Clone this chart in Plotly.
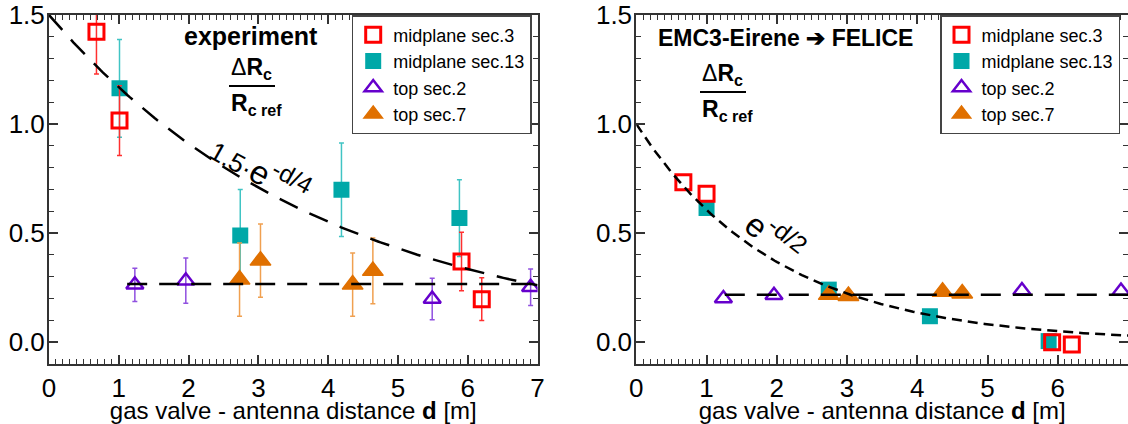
import numpy as np
import plotly.graph_objects as go

W, H = 1128, 424
MT, MB = 15, 60

# ---------------- data: experiment (left panel) ----------------
exp_mid3_d = [0.68, 1.01, 5.91, 6.20]
exp_mid3_r = [1.423, 1.016, 0.370, 0.197]
exp_mid3_err = [0.194, 0.16, 0.134, 0.098]

exp_mid13_d = [1.01, 2.74, 4.19, 5.88]
exp_mid13_r = [1.164, 0.489, 0.699, 0.569]
exp_mid13_err = [0.224, 0.211, 0.214, 0.176]

exp_top2_d = [1.23, 1.96, 5.49, 6.90]
exp_top2_r = [0.263, 0.282, 0.198, 0.252]
exp_top2_err = [0.076, 0.104, 0.095, 0.084]

exp_top7_d = [2.73, 3.03, 4.35, 4.64]
exp_top7_r = [0.287, 0.374, 0.264, 0.327]
exp_top7_err = [0.168, 0.168, 0.145, 0.151]

exp_fit_amp, exp_fit_len = 1.5, 4.0
exp_flat_level = 0.267
exp_flat_d = [1.12, 7.0]

# ---------------- data: EMC3-Eirene -> FELICE (right panel) ----------------
sim_mid3_d = [0.67, 1.00, 5.92, 6.20]
sim_mid3_r = [0.733, 0.681, 0.0, -0.011]

sim_mid13_d = [1.00, 2.74, 4.18, 5.87]
sim_mid13_r = [0.615, 0.241, 0.119, 0.005]

sim_top2_d = [1.24, 1.96, 5.49, 6.90]
sim_top2_r = [0.200, 0.215, 0.237, 0.235]

sim_top7_d = [2.74, 3.02, 4.36, 4.64]
sim_top7_r = [0.217, 0.212, 0.231, 0.223]

sim_fit_amp, sim_fit_len = 1.0, 2.0
sim_flat_level = 0.217
sim_flat_d = [1.26, 7.0]

series_names = ["midplane sec.3", "midplane sec.13", "top sec.2", "top sec.7"]
x_ticks = [0, 1, 2, 3, 4, 5, 6, 7]
y_ticks = [0.0, 0.5, 1.0, 1.5]

# ---------------- styles ----------------
RED = "#ff0000"
TEAL = "#00a8a8"
PURPLE = "#6600cc"
ORANGE = "#e07000"
FONT = "Liberation Sans, Arial, sans-serif"


def px(x):
    return x / W


def py(y):
    return (H - MB - y) / (H - MT - MB)


fig = go.Figure()


def add_panel(xa, ya, legend, mid3, mid13, top2, top7, errs, fit, flat):
    common = dict(xaxis=xa, yaxis=ya, legend=legend, mode="markers")

    def err(arr, color):
        if arr is None:
            return None
        return dict(type="data", array=arr, visible=True, color=color,
                    thickness=1.5, width=2.5)

    fig.add_trace(go.Scatter(
        x=mid13[0], y=mid13[1], name=series_names[1], legendrank=2,
        marker=dict(symbol="square", size=16, color=TEAL,
                    line=dict(width=0)),
        error_y=err(errs[1], "#40c4c4"), **common))
    fig.add_trace(go.Scatter(
        x=mid3[0], y=mid3[1], name=series_names[0], legendrank=1,
        marker=dict(symbol="square-open", size=15, color=RED,
                    line=dict(width=3, color=RED)),
        error_y=err(errs[0], "#ff3030"), **common))
    fig.add_trace(go.Scatter(
        x=top2[0], y=top2[1], name=series_names[2], legendrank=3,
        marker=dict(symbol="triangle-up-open", size=15, color=PURPLE,
                    line=dict(width=2.5, color=PURPLE)),
        error_y=err(errs[2], "#9050e0"), **common))
    fig.add_trace(go.Scatter(
        x=top7[0], y=top7[1], name=series_names[3], legendrank=4,
        marker=dict(symbol="triangle-up", size=18, color=ORANGE,
                    line=dict(width=1.5, color=ORANGE)),
        error_y=err(errs[3], "#f0a050"), **common))

    amp, lam, dash = fit
    dd = np.linspace(0, 7, 200)
    fig.add_trace(go.Scatter(
        x=dd, y=amp * np.exp(-dd / lam), mode="lines", showlegend=False,
        line=dict(color="black", width=2.5, dash=dash),
        xaxis=xa, yaxis=ya, hoverinfo="skip"))
    level, span = flat
    fig.add_trace(go.Scatter(
        x=span, y=[level, level], mode="lines", showlegend=False,
        line=dict(color="black", width=2.5, dash="20px,12px"),
        xaxis=xa, yaxis=ya, hoverinfo="skip"))


add_panel("x", "y", "legend",
          (exp_mid3_d, exp_mid3_r), (exp_mid13_d, exp_mid13_r),
          (exp_top2_d, exp_top2_r), (exp_top7_d, exp_top7_r),
          (exp_mid3_err, exp_mid13_err, exp_top2_err, exp_top7_err),
          (exp_fit_amp, exp_fit_len, "20px,13px"),
          (exp_flat_level, exp_flat_d))
add_panel("x2", "y2", "legend2",
          (sim_mid3_d, sim_mid3_r), (sim_mid13_d, sim_mid13_r),
          (sim_top2_d, sim_top2_r), (sim_top7_d, sim_top7_r),
          (None, None, None, None),
          (sim_fit_amp, sim_fit_len, "10px,6px"),
          (sim_flat_level, sim_flat_d))

axis_common = dict(
    showline=True, linecolor="#333333", linewidth=2, mirror="allticks",
    ticks="inside", ticklen=9, tickwidth=1.5, tickcolor="#333333",
    showgrid=False, zeroline=False, automargin=False,
    tickfont=dict(family=FONT, size=26, color="black"),
    minor=dict(ticks="inside", ticklen=5, tickwidth=1.2, tickcolor="#333333",
               dtick=0.1, showgrid=False),
)
xcommon = dict(axis_common, range=[0, 7], tickvals=x_ticks,
               title=dict(text="gas valve - antenna distance <b>d</b> [m]",
                          font=dict(family=FONT, size=24, color="black"),
                          standoff=11))
ycommon = dict(axis_common, range=[-0.1, 1.5], tickvals=y_ticks,
               tickformat=".1f", ticklabelstandoff=-3)

legend_common = dict(
    bgcolor="white", bordercolor="#444444", borderwidth=1.5,
    font=dict(family=FONT, size=18, color="black"),
    xanchor="left", yanchor="top", y=1.0, tracegroupgap=0,
    itemclick=False,
)

fig.update_layout(
    template="none",
    width=W, height=H,
    margin=dict(l=0, r=0, t=MT, b=MB, autoexpand=False),
    paper_bgcolor="white", plot_bgcolor="white",
    font=dict(family=FONT, color="black"),
    xaxis=dict(xcommon, domain=[px(49), px(537.6)], anchor="y"),
    yaxis=dict(ycommon, anchor="x"),
    xaxis2=dict(xcommon, domain=[px(636.3), 1.0], anchor="y2"),
    yaxis2=dict(ycommon, anchor="x2"),
    legend=dict(legend_common, x=px(351.7)),
    legend2=dict(legend_common, x=px(940)),
    showlegend=True,
)

ann = []
# panel titles
ann.append(dict(x=px(251), y=py(36), text="<b>experiment</b>",
                font=dict(size=25)))
ann.append(dict(x=px(785), y=py(38), text="<b>EMC3-Eirene \u2794 FELICE</b>",
                font=dict(size=23)))
# fractions: numerator sits on the bar, denominator hangs below it
frac_spec = [(229, 275, 86), (700, 746, 92)]
for (xl, xr, ybar) in frac_spec:
    ann.append(dict(x=px(xl), y=py(ybar - 1), xanchor="left", yanchor="bottom",
                    text="\u0394<b>R<sub>c</sub></b>", font=dict(size=23)))
    ann.append(dict(x=px(xl), y=py(ybar + 2), xanchor="left", yanchor="top",
                    text="<b>R<sub>c ref</sub></b>", font=dict(size=23)))
# rotated fit labels
ann.append(dict(x=px(260), y=py(169), textangle=29,
                text="<span style='font-size:26px'>1.5\u00b7</span>"
                     "<span style='font-size:33px'>e</span><sup>-d/4</sup>",
                font=dict(size=35)))
ann.append(dict(x=px(775), y=py(236), textangle=38,
                text="<span style='font-size:33px'>e</span><sup>-d/2</sup>",
                font=dict(size=35)))
for a in ann:
    a.setdefault("xref", "paper")
    a.setdefault("yref", "paper")
    a.setdefault("showarrow", False)
    a.setdefault("xanchor", "center")
    a.setdefault("yanchor", "middle")
    f = a.setdefault("font", {})
    f.setdefault("family", FONT)
    f.setdefault("color", "black")
fig.update_layout(annotations=ann)

shapes = []
for (x0, x1, yb) in frac_spec:
    shapes.append(dict(type="line", xref="paper", yref="paper",
                       x0=px(x0), x1=px(x1), y0=py(yb), y1=py(yb),
                       line=dict(color="black", width=2)))
fig.update_layout(shapes=shapes)

fig.write_html(
    "out.html",
    config={"displayModeBar": False},
    post_script="document.body.style.margin='0px';"
                "document.body.style.overflow='hidden';",
)
